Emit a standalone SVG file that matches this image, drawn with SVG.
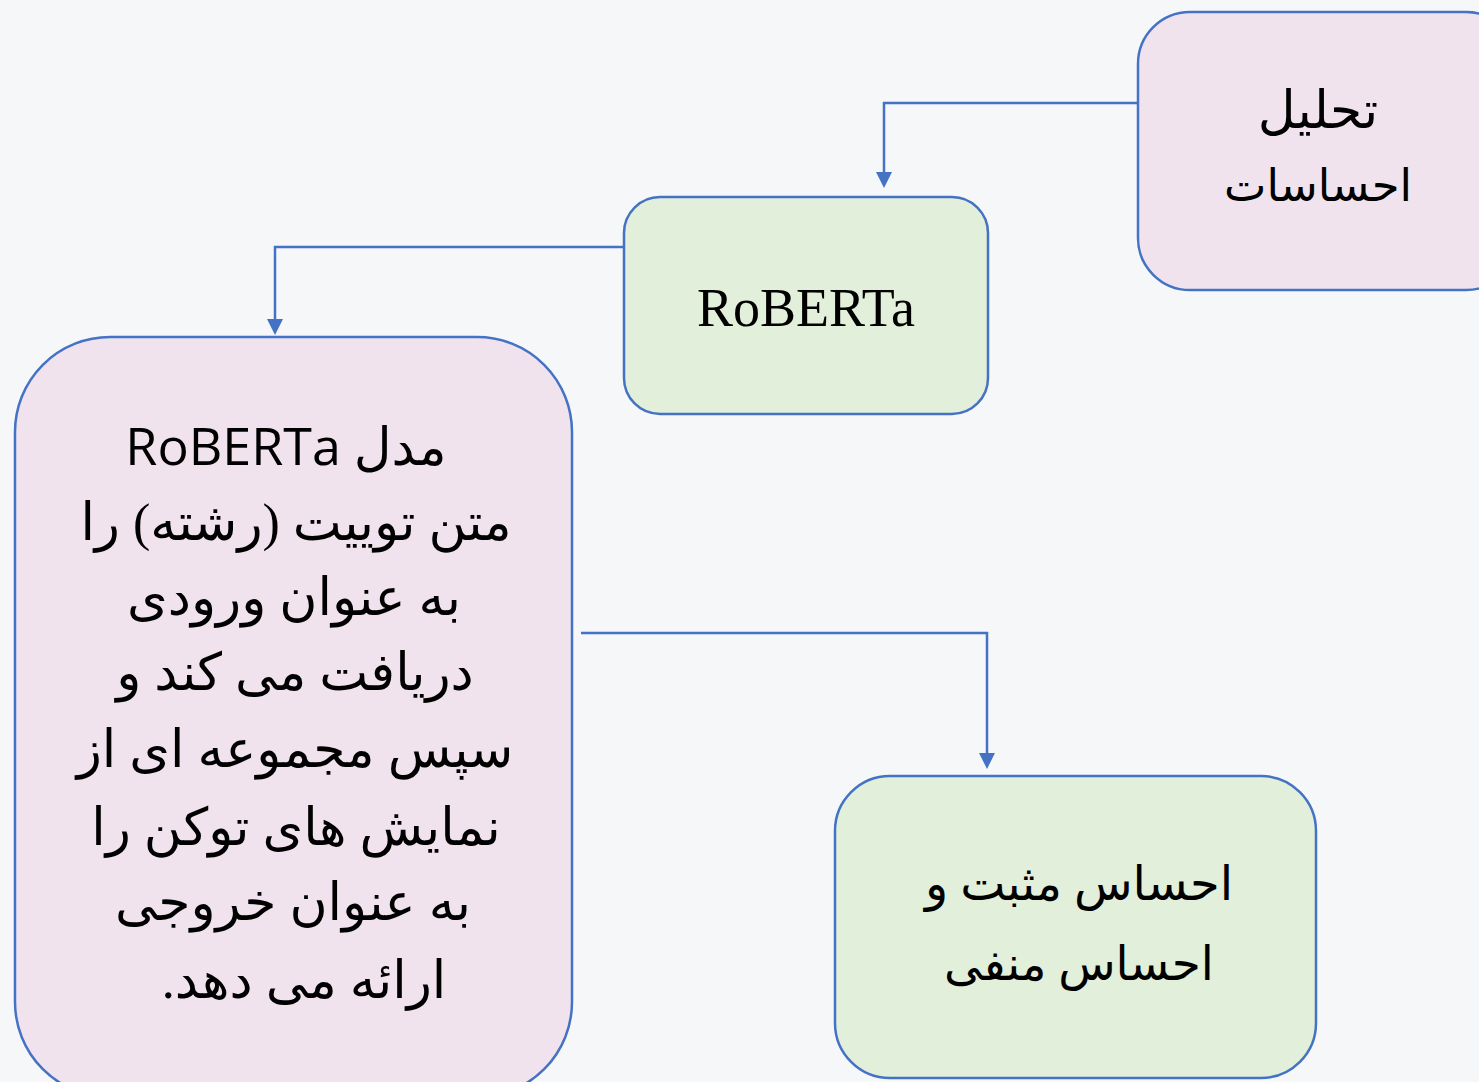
<svg xmlns="http://www.w3.org/2000/svg" width="1479" height="1082" viewBox="0 0 1479 1082">
<defs>
<style>
.pink{fill:#f1e3ee;stroke:#4472c4;stroke-width:2.5}
.green{fill:#e2efda;stroke:#4472c4;stroke-width:2.5}
.con{fill:none;stroke:#4472c4;stroke-width:2.5}
.ah{fill:#4472c4}
.fa{font-family:"Liberation Serif","DejaVu Serif","DejaVu Sans",serif;font-size:46px;fill:#000;text-anchor:middle;direction:rtl}
.big{font-size:52px}
.rb{font-family:"Liberation Serif",serif;font-size:54px;fill:#000;text-anchor:middle}
</style>
</defs>
<rect width="1479" height="1082" fill="#f6f7f9"/>
<g id="connectors">
<path class="con" d="M1138,103 H884 V174"/>
<path class="con" d="M624,247 H275 V321"/>
<path class="con" d="M581,633 H987 V755"/>
<path class="ah" d="M876,172 L892,172 L884,188 Z"/>
<path class="ah" d="M267,319 L283,319 L275,335 Z"/>
<path class="ah" d="M979,753 L995,753 L987,769 Z"/>
</g>
<g id="node-sentiment">
<rect class="pink" x="1138" y="12" width="380" height="278" rx="52"/>
<text class="fa" x="1318" y="128" style="font-size:52px">تحلیل</text>
<text class="fa" x="1318" y="201" style="font-size:45px">احساسات</text>
</g>
<g id="node-roberta">
<rect class="green" x="624" y="197" width="364" height="217" rx="36"/>
<text class="rb" x="806" y="326">RoBERTa</text>
</g>
<g id="node-description">
<rect class="pink" x="15" y="337" width="557" height="760" rx="95"/>
<text class="fa big" x="286" y="465">مدل <tspan font-family="'Open Sans','Noto Sans',sans-serif">RoBERTa</tspan></text>
<text class="fa big" x="296" y="540">متن توییت (رشته) را</text>
<text class="fa big" x="294" y="615">به عنوان ورودی</text>
<text class="fa big" x="295" y="690">دریافت می کند و</text>
<text class="fa big" x="295" y="767">سپس مجموعه ای از</text>
<text class="fa big" x="296" y="845">نمایش های توکن را</text>
<text class="fa big" x="293" y="920">به عنوان خروجی</text>
<text class="fa big" x="304" y="998">ارائه می دهد.</text>
</g>
<g id="node-output">
<rect class="green" x="835" y="776" width="481" height="302" rx="55"/>
<text class="fa" x="1079" y="900" style="font-size:48px">احساس مثبت و</text>
<text class="fa" x="1079" y="980" style="font-size:47px">احساس منفی</text>
</g>
</svg>
